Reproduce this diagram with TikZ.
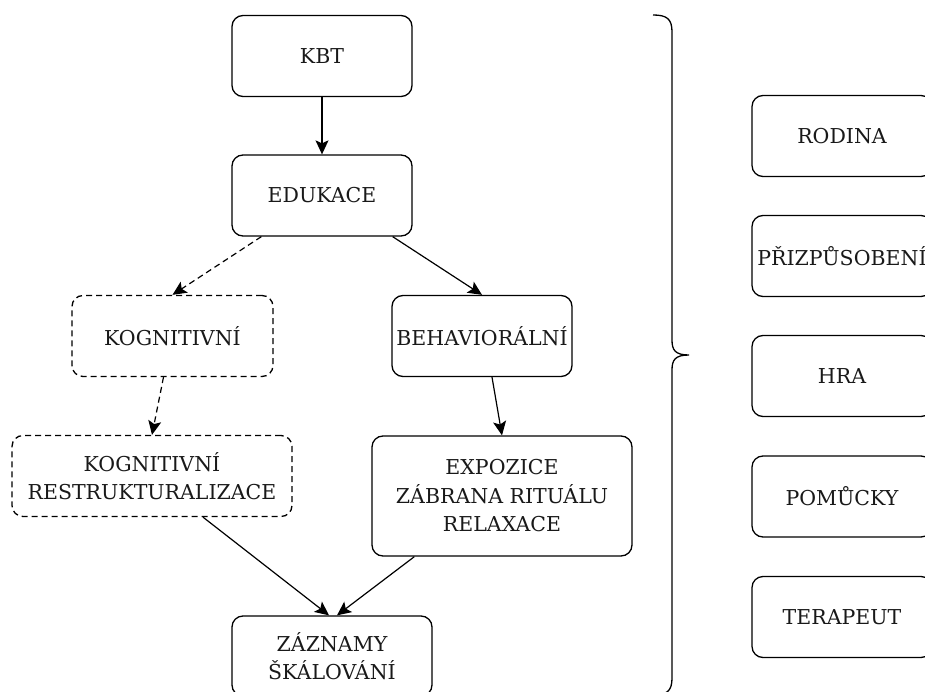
\documentclass[tikz,border=0pt]{standalone}
\usepackage{fontspec}
\setmainfont{DejaVu Serif}
\usetikzlibrary{arrows.meta}
\begin{document}
\begin{tikzpicture}[x=1pt,y=-1pt,
  box/.style={draw, line width=1.3pt, rounded corners=11pt, inner sep=0pt,
    minimum height=81pt, align=center, font=\fontsize{20.5}{28.5}\selectfont, text=black!90},
  dbox/.style={box, dash pattern=on 6pt off 4pt},
  arr/.style={line width=1.2pt, -{Stealth[length=14pt,width=13pt,inset=3pt]}},
  darr/.style={arr, dash pattern=on 6pt off 4pt}]
\useasboundingbox (0,0) rectangle (925,692);
\clip (0,0) rectangle (925,692);
% left flowchart
\node[box, minimum width=180pt] (kbt) at (322,56) {KBT};
\node[box, minimum width=180pt] (edu) at (322,195.5) {EDUKACE};
\node[dbox, minimum width=201pt] (kog) at (172.5,336) {KOGNITIVNÍ};
\node[box, minimum width=180pt] (beh) at (482,336) {BEHAVIORÁLNÍ};
\node[dbox, minimum width=280pt] (kr) at (152,476) {KOGNITIVNÍ\\RESTRUKTURALIZACE};
\node[box, minimum width=260pt, minimum height=120pt] (exp) at (502,496) {EXPOZICE\\ZÁBRANA RITUÁLU\\RELAXACE};
\node[box, minimum width=200pt, minimum height=80pt] (zaz) at (332,656) {ZÁZNAMY\\ŠKÁLOVÁNÍ};
% connectors
\draw[arr] (kbt.south) -- (edu.north);
\draw[darr] ([xshift=30pt]edu.south west) -- (kog.north);
\draw[arr] ([xshift=-20pt]edu.south east) -- (beh.north);
\draw[darr] ([xshift=-9pt]kog.south) -- (kr.north);
\draw[arr] ([xshift=10pt]beh.south) -- (exp.north);
\draw[arr] ([xshift=51pt]kr.south) -- ([xshift=-3pt]zaz.north);
\draw[arr] ([xshift=43pt]exp.south west) -- ([xshift=5pt]zaz.north);
% brace
\draw[line width=1.3pt] (653,15) .. controls (667,15) and (672,19) .. (672,32)
  -- (672,340) .. controls (672,350) and (675,355) .. (689,355)
  .. controls (675,355) and (672,360) .. (672,370)
  -- (672,678) .. controls (672,691) and (667,695) .. (653,695);
% right column
\node[box, minimum width=180pt] (rod) at (842,136) {RODINA};
\node[box, minimum width=180pt] (pri) at (842,256) {\makebox[0pt][c]{PŘIZPŮSOBENÍ}};
\node[box, minimum width=180pt] (hra) at (842,376) {HRA};
\node[box, minimum width=180pt] (pom) at (842,496.5) {POMŮCKY};
\node[box, minimum width=180pt] (ter) at (842,617) {TERAPEUT};
\end{tikzpicture}
\end{document}
